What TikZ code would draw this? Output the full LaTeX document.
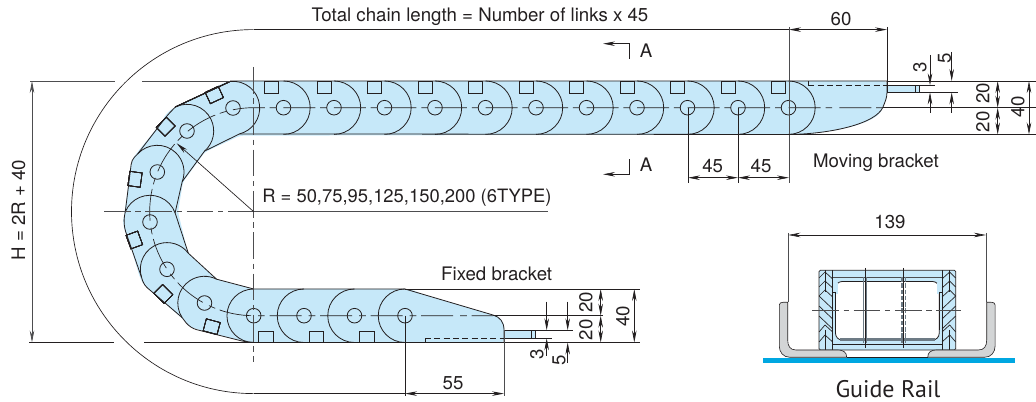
\documentclass[tikz,border=0pt]{standalone}
\usepackage{fontspec}
\setmainfont{TeX Gyre Heros}
\newfontfamily\railfont{PT Sans}
\usetikzlibrary{arrows.meta,calc}
\definecolor{chainblue}{HTML}{C6E8F9}
\definecolor{railblue}{HTML}{00A7E1}
\definecolor{guidegray}{HTML}{D3D5D6}
\definecolor{inkdark}{HTML}{231F20}
\definecolor{dimgray}{HTML}{4D4D4F}
\definecolor{bargray}{HTML}{6D7B85}
\tikzset{
  linkline/.style={draw=inkdark,line width=0.6pt},
  thinlink/.style={draw=inkdark,line width=0.5pt},
  dimline/.style={draw=inkdark,line width=0.5pt},
  extline/.style={draw=dimgray,line width=0.6pt},
  centerdash/.style={draw=inkdark,line width=0.5pt,dash pattern=on 24pt off 3.6pt on 5pt off 5.3pt,dash phase=8pt},
  axisdash/.style={draw=dimgray,line width=0.55pt,dash pattern=on 20pt off 3.5pt on 4pt off 3.5pt},
  arrowboth/.style={{Stealth[length=9pt,width=3.4pt]}-{Stealth[length=9pt,width=3.4pt]}},
  arrowend/.style={-{Stealth[length=9pt,width=3.4pt]}},
  lbl/.style={inner sep=0pt,text=inkdark,font=\fontsize{14}{16}\selectfont},
}
\newcommand{\pinhole}[2]{\draw[linkline] (#1,#2) circle[radius=7.3];}
\newcommand{\tiltsq}[3]{\draw[thinlink,shift={(#1,#2)},rotate=#3] (-7.2,-6.2) -- (7.2,-6.2) -- (7.2,6.2) -- (-7.2,6.2) -- cycle;}
\newcommand{\linkarc}[6]{%
  \path (#1,#2) ++(#3:26.7) coordinate (#5);
  \path (#1,#2) ++(#4:26.7) coordinate (#6);
  \draw[linkline] (#5) arc[start angle=#3,end angle=#4,radius=26.7];}
\begin{document}
\begin{tikzpicture}[x=0.75pt,y=-0.75pt]
\useasboundingbox (0,0) rectangle (1036,402);
% ---- chain fill
\foreach \cx/\cy in {233/108,187/131,157.3/172,150/222,167/269.3,204.5/303,253.7/315.7,304/315.7,354.5/315.7,405/315.7}
  \fill[chainblue] (\cx,\cy) circle[radius=26.7];
\foreach \cx in {283.5,334,384.5,435,485.5,536,586.5,637,687.5,738,788.5}
  \fill[chainblue] (\cx,107.7) circle[radius=26.7];
\fill[chainblue,rounded corners=2.5pt] (230,81) -- (175,106.7) -- (167,115.7) -- (136.7,153) -- (131.7,160) -- (126.7,196.7) -- (123,223) -- (126.7,233) -- (140,278) -- (144,285) -- (181.7,318) -- (190,326.7) -- (200,330) -- (248,342.5) -- (405,342.5) -- (504,342.5) -- (504,330) .. controls (504,322) and (500,317) .. (493,315) -- (405,289) -- (253.7,289) -- (216.7,279.3) -- (188,253) -- (178,212) -- (183,182) -- (205,152) -- (240,135.7) -- (789,134.5) .. controls (830,134) and (876,124) .. (883,107) .. controls (885,102) and (887,98) .. (887,92) -- (887,81) -- cycle;
% ---- rods
\draw[linkline,fill=chainblue] (887,85.3) rectangle (919.3,92.4);
\draw[linkline] (915.3,85.3) -- (915.3,92.4);
\draw[linkline,fill=chainblue] (504,330.3) rectangle (535,338.3);
\draw[linkline] (531.7,330.3) -- (531.7,338.3);
% ---- centre lines behind the links
\draw[centerdash] (493,315.7) -- (253.7,315.7) arc[start angle=90,end angle=270,radius=104] -- (883,107.7);
% ---- straight link arcs, squares, holes
\foreach \cx in {283.5,334,384.5,435,485.5,536,586.5,637,687.5,738,788.5}{
  \draw[linkline] (\cx,81) arc[start angle=-90,end angle=90,radius=26.7];
  \pinhole{\cx}{107.7}
}
\draw[linkline] (264,81) rectangle (278.5,93.7);
\foreach \cx in {334,384.5,435,485.5,536,586.5,637,687.5,738,788.5}
  \draw[linkline] (\cx-17,81) rectangle (\cx-2.7,93.7);
\foreach \cx in {253.7,304,354.5,405}{
  \draw[linkline] (\cx,289) arc[start angle=-90,end angle=-270,radius=26.75];
  \pinhole{\cx}{315.7}
}
\foreach \cx in {253.7,304,354.5}
  \draw[linkline] (\cx+5,342.5) rectangle (\cx+19.6,331);
% ---- curved links
\linkarc{233}{108}{-96}{76}{sa}{ea}
\linkarc{187}{131}{-116}{49}{sb}{eb}
\linkarc{157.3}{172}{-137}{21}{sc}{ec}
\linkarc{150}{222}{-158}{-20}{sd}{ed}
\linkarc{167}{269.3}{-198}{-37}{se}{ee}
\linkarc{204.5}{303}{-213}{-63}{sf}{ef}
\foreach \cx/\cy in {233/108,187/131,157.3/172,150/222,167/269.3,204.5/303}
  \pinhole{\cx}{\cy}
\tiltsq{214.3}{95}{25}
\tiltsq{165.7}{126.7}{45}
\tiltsq{135}{179.3}{82}
\tiltsq{134.3}{240}{110}
\tiltsq{163.3}{294}{135}
\tiltsq{211.7}{326.7}{165}
\draw[linkline] (sa) -- (sb);
\draw[linkline,rounded corners=3pt] (sb) -- (167,115.7) -- (sc);
\draw[linkline,rounded corners=3pt] (sc) -- (131.7,160) -- (sd);
\draw[linkline,rounded corners=6pt] (sd) -- (123,224) -- (se);
\draw[linkline,rounded corners=3pt] (se) -- (144,285) -- (sf);
\draw[linkline,rounded corners=5pt] (sf) -- (190,328) -- (248,342.5) -- (253.7,342.5);
\draw[linkline] (ea) -- (eb) -- (ec) -- (ed) -- (ee) -- (ef) -- (253.7,289);
% ---- chain edges and brackets
\draw[linkline] (230,81) -- (887,81) -- (887,92) .. controls (887,98) and (885,102) .. (883,107) .. controls (876,124) and (830,134) .. (789,134.5) -- (ea);
\draw[linkline] (253.7,289) -- (405,289) -- (493,315) .. controls (500,317) and (504,322) .. (504,330) -- (504,342.5) -- (248,342.5);
\draw[linkline] (808.3,81) -- (808.3,85.3);
\draw[linkline,dash pattern=on 4.5pt off 2.5pt] (808.3,85.3) -- (887,85.3);
\draw[linkline] (425,342.5) -- (425,338);
\draw[linkline,dash pattern=on 4.5pt off 2.5pt] (425,338) -- (504,338);
% ---- axes
\draw[axisdash] (253.7,67) -- (253.7,362);
\draw[axisdash] (104,211.7) -- (253.7,211.7);
\draw[extline] (253.7,211.7) -- (548,211.7);
\draw[dimline,arrowend] (253.7,211.7) -- (176.7,143.3);
\node[lbl,anchor=west,font=\fontsize{13.8}{16}\selectfont] (rtext) at (262,198) {R = 50,75,95,125,150,200 (6TYPE)};
% ---- outer length line
\draw[dimline] (253.5,393.6) arc[start angle=90,end angle=270,radius=182];
\draw[dimline] (253.5,393.6) -- (405,393.6);
\draw[dimline,arrowboth] (405,393.6) -- (504,393.6);
\draw[dimline] (253.5,29.6) -- (789,29.6);
\draw[dimline,arrowboth] (789,29.6) -- (887,29.6);
\node[lbl] (total) at (480,17) {Total chain length = Number of links x 45};
\node[lbl] (d60) at (841,19.5) {60};
\draw[extline] (789,27) -- (789,183);
\draw[dimline] (887,27) -- (887,85);
% ---- left height dimension
\draw[extline] (30,81) -- (115,81);
\draw[extline] (142,81) -- (230,81);
\draw[dimline] (29,342.5) -- (114,342.5);
\draw[dimline] (144,342.5) -- (265,342.5);
\draw[extline,arrowboth] (32,81) -- (32,342.5);
\node[lbl,rotate=90] (hdim) at (18.5,210) {H = 2R + 40};
% ---- section marks
\draw[dimline,{Stealth[length=9pt,width=3.4pt]}-] (603,43.7) -- (629.3,43.7) -- (629.3,59.3);
\draw[dimline,{Stealth[length=9pt,width=3.4pt]}-] (603,174.3) -- (629.3,174.3) -- (629.3,159.3);
\node[lbl] (aup) at (646,50.5) {A};
\node[lbl] (adown) at (646,164.5) {A};
% ---- moving bracket dims
\draw[dimline] (688,108) -- (688,183);
\draw[dimline] (738,108) -- (738,183);
\draw[dimline,arrowboth] (688,177.7) -- (738,177.7);
\draw[dimline,arrowboth] (738,177.7) -- (789,177.7);
\node[lbl] (d45a) at (712.7,166) {45};
\node[lbl] (d45b) at (761,166) {45};
\node[lbl] (movb) at (876,163) {Moving bracket};
\draw[dimline] (887,81) -- (1036,81);
\draw[dimline] (883,107.7) -- (1036,107.7);
\draw[dimline] (789,134.5) -- (1036,134.5);
\draw[dimline] (919.3,85.3) -- (935,85.3);
\draw[dimline] (919.3,92.4) -- (958,92.4);
\draw[dimline,arrowend] (930,55) -- (930,85.3);
\draw[dimline,arrowend] (930,113) -- (930,92.4);
\draw[dimline,arrowend] (951.7,52) -- (951.7,81);
\draw[dimline,arrowend] (951.7,113) -- (951.7,92.4);
\node[lbl,rotate=90] (d3a) at (920,67) {3};
\node[lbl,rotate=90] (d5a) at (944.5,58.5) {5};
\draw[dimline,arrowboth] (997.7,81) -- (997.7,107.7);
\draw[dimline,arrowboth] (997.7,107.7) -- (997.7,134.5);
\draw[dimline,arrowboth] (1029,81) -- (1029,134.5);
\node[lbl,rotate=90] (d20a) at (983,93.5) {20};
\node[lbl,rotate=90] (d20b) at (983,122) {20};
\node[lbl,rotate=90] (d40a) at (1018,107) {40};
% ---- fixed bracket dims
\draw[dimline] (405,289) -- (640,289);
\draw[dimline] (493,315.7) -- (603,315.7);
\draw[dimline] (405,342.5) -- (640,342.5);
\draw[dimline] (535,330.3) -- (573,330.3);
\draw[dimline] (535,338.3) -- (552,338.3);
\draw[dimline,arrowend] (546.7,301.7) -- (546.7,330.3);
\draw[dimline,arrowend] (546.7,356) -- (546.7,338.3);
\draw[dimline,arrowend] (567.7,301.7) -- (567.7,330.3);
\draw[dimline,arrowend] (567.7,363) -- (567.7,342.5);
\node[lbl,rotate=90] (d3b) at (537,354) {3};
\node[lbl,rotate=90] (d5b) at (559,360) {5};
\draw[dimline,arrowboth] (600.7,289) -- (600.7,315.7);
\draw[dimline,arrowboth] (600.7,315.7) -- (600.7,342.5);
\draw[dimline,arrowboth] (634.3,289) -- (634.3,342.5);
\node[lbl,rotate=90] (d20c) at (586,302.5) {20};
\node[lbl,rotate=90] (d20d) at (586,330) {20};
\node[lbl,rotate=90] (d40b) at (623,316.5) {40};
\draw[dimline] (405,315.7) -- (405,396);
\draw[extline] (504,330) -- (504,396);
\node[lbl] (d55) at (453,383) {55};
\node[lbl] (fixb) at (496.7,274) {Fixed bracket};
% ---- guide rail section
\draw[extline] (788.3,233) -- (788.3,302);
\draw[extline] (985.9,233) -- (985.9,302);
\draw[dimline,arrowboth] (788.3,235) -- (985.9,235);
\node[lbl] (d139) at (890,222) {139};
% section body
\draw[linkline,fill=chainblue,rounded corners=1pt] (819,270.3) rectangle (955.7,350);
\draw[linkline,fill=white,rounded corners=5pt] (835.5,281.5) rectangle (939.2,340);
\fill[chainblue] (834,283) rectangle (838,294);
\fill[chainblue] (936.5,283) rectangle (941,294);
\draw[linkline] (835.5,292) -- (832.7,292);
\draw[linkline] (939.2,292) -- (942,292);
\draw[linkline] (835.5,292) -- (835.5,330);
\draw[linkline] (939.2,292) -- (939.2,330);
\draw[extline] (832.7,277) -- (942,277);
\draw[bargray,line width=1.6pt] (840,339.5) -- (934.5,339.5);
\draw[linkline] (832.7,344) -- (942,344);
\foreach \wx/\sgn in {819/1,955.7/-1}{
  \draw[linkline] (\wx+\sgn*6,270.3) -- (\wx+\sgn*6,292);
  \draw[linkline] (\wx+\sgn*6,330) -- (\wx+\sgn*6,350);
  \draw[linkline] (\wx+\sgn*13.7,270.3) -- (\wx+\sgn*13.7,350);
  \foreach \vy in {272,281,290}
    \draw[thinlink] (\wx,\vy+6) -- (\wx+\sgn*6,\vy) -- (\wx+\sgn*13.7,\vy+7);
  \foreach \vy in {296,306,316}
    \draw[thinlink] (\wx,\vy) -- (\wx+\sgn*13.7,\vy+13);
  \foreach \vy in {325,335}
    \draw[thinlink] (\wx,\vy+7) -- (\wx+\sgn*6,\vy) -- (\wx+\sgn*13.7,\vy+7);
}
\draw[bargray,line width=1.6pt] (865.7,277) -- (865.7,343);
\draw[bargray,line width=0.7pt] (863.4,277) -- (863.4,343);
\draw[bargray,line width=1pt,dash pattern=on 3.4pt off 1.3pt] (902,277) -- (902,343);
\draw[bargray,line width=1pt,dash pattern=on 3.4pt off 1.3pt] (905.4,277) -- (905.4,343);
\draw[dimline] (865.7,268) -- (865.7,347.7);
\draw[dimline] (903.5,268) -- (903.5,347.7);
\draw[axisdash] (812.3,310) -- (960.7,310);
% guide profiles
\draw[linkline,fill=guidegray,line width=0.45pt] (779.3,305) .. controls (779.3,303) and (781,302.3) .. (783,302.3) -- (787.7,302.3) -- (787.7,340) .. controls (787.7,346) and (790,350) .. (796,350) -- (838,350) .. controls (843,350) and (846.7,352) .. (846.7,357.3) -- (790,357.3) .. controls (783,357.3) and (779.3,352) .. (779.3,346) -- cycle;
\draw[linkline,fill=guidegray,line width=0.45pt] (995.1,305) .. controls (995.1,303) and (993.4,302.3) .. (991.4,302.3) -- (986.7,302.3) -- (986.7,340) .. controls (986.7,346) and (984.4,350) .. (978.4,350) -- (936.4,350) .. controls (931.4,350) and (927.7,352) .. (927.7,357.3) -- (984.4,357.3) .. controls (991.4,357.3) and (995.1,352) .. (995.1,346) -- cycle;
\fill[railblue] (763.3,358.3) rectangle (1015,362.8);
\draw[dimline] (846.7,357.5) -- (927.7,357.5);
\node[inner sep=0pt,text=inkdark,font=\railfont\fontsize{18}{20}\selectfont] (grail) at (888,389) {Guide Rail};
\end{tikzpicture}
\end{document}
